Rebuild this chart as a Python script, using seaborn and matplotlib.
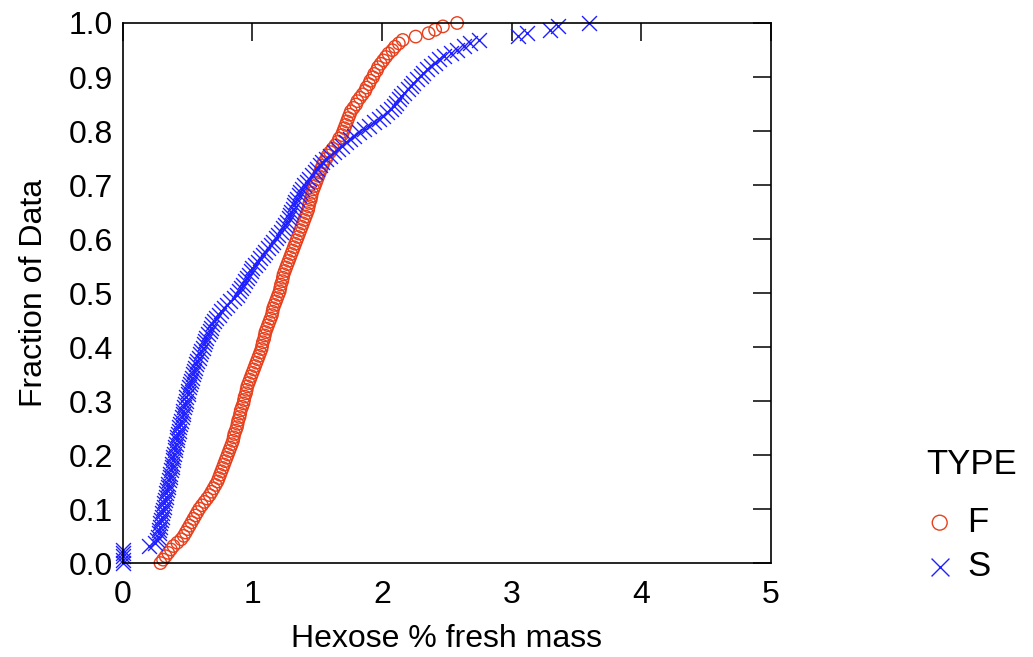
import numpy as np
import pandas as pd
import matplotlib
matplotlib.use("Agg")
import matplotlib.pyplot as plt
import seaborn as sns

# hexose values, sorted, one list per TYPE
hexose_F = [
    0.29, 0.31, 0.33, 0.35, 0.37, 0.39, 0.42, 0.45,
    0.47, 0.485, 0.50, 0.515, 0.53, 0.545, 0.56, 0.575,
    0.59, 0.61, 0.63, 0.65, 0.67, 0.685, 0.70, 0.715,
    0.73, 0.74, 0.75, 0.76, 0.77, 0.78, 0.79, 0.80,
    0.81, 0.82, 0.83, 0.84, 0.85, 0.855, 0.86, 0.87,
    0.88, 0.885, 0.89, 0.90, 0.905, 0.91, 0.92, 0.93,
    0.935, 0.94, 0.95, 0.955, 0.96, 0.97, 0.98, 0.99,
    1.00, 1.01, 1.02, 1.03, 1.04, 1.05, 1.06, 1.07,
    1.075, 1.08, 1.09, 1.095, 1.10, 1.11, 1.12, 1.13,
    1.14, 1.15, 1.155, 1.16, 1.17, 1.18, 1.19, 1.20,
    1.21, 1.215, 1.22, 1.23, 1.235, 1.24, 1.25, 1.26,
    1.27, 1.28, 1.29, 1.30, 1.31, 1.32, 1.33, 1.34,
    1.35, 1.36, 1.37, 1.38, 1.39, 1.40, 1.41, 1.42,
    1.43, 1.435, 1.44, 1.45, 1.455, 1.46, 1.47, 1.48,
    1.49, 1.50, 1.51, 1.52, 1.53, 1.54, 1.55, 1.57,
    1.58, 1.60, 1.62, 1.64, 1.66, 1.67, 1.69, 1.70,
    1.71, 1.72, 1.73, 1.74, 1.75, 1.76, 1.78, 1.80,
    1.81, 1.83, 1.85, 1.87, 1.88, 1.90, 1.91, 1.93,
    1.94, 1.96, 1.97, 1.99, 2.01, 2.03, 2.05, 2.08,
    2.10, 2.13, 2.16,
    2.26, 2.36, 2.41, 2.47, 2.58,
]

hexose_S = [
    0.0, 0.0, 0.0, 0.0, 0.0,
    0.20,
    0.25, 0.26, 0.27,
    0.275, 0.28, 0.285, 0.29, 0.295, 0.30, 0.305, 0.31,
    0.315, 0.32, 0.325, 0.33, 0.335, 0.34, 0.345, 0.35,
    0.355, 0.36, 0.365, 0.37, 0.375, 0.38, 0.385, 0.39,
    0.395, 0.40, 0.405, 0.41, 0.415, 0.42, 0.425, 0.43,
    0.436, 0.442, 0.448, 0.454, 0.46, 0.466, 0.472, 0.478,
    0.485, 0.49, 0.50, 0.505, 0.51, 0.52, 0.525, 0.535,
    0.54, 0.55, 0.56, 0.565, 0.575, 0.585, 0.595, 0.605,
    0.615, 0.625, 0.635, 0.645, 0.655, 0.67, 0.68, 0.69,
    0.70, 0.72, 0.74, 0.76, 0.78, 0.80, 0.83, 0.86,
    0.88, 0.895, 0.91, 0.925, 0.94, 0.955, 0.97, 0.985,
    1.00, 1.02, 1.04, 1.06, 1.08, 1.10, 1.12, 1.14,
    1.16, 1.18, 1.20, 1.22, 1.235, 1.25, 1.265, 1.28,
    1.29, 1.30, 1.31, 1.32, 1.33, 1.345, 1.36, 1.37,
    1.38, 1.40, 1.42, 1.44, 1.46, 1.48, 1.50, 1.52,
    1.54, 1.57, 1.60, 1.63, 1.66, 1.69, 1.72, 1.75,
    1.78, 1.82, 1.86, 1.90, 1.94, 1.98, 2.01, 2.04,
    2.07, 2.09, 2.11, 2.13, 2.15, 2.17, 2.20, 2.22,
    2.24, 2.27, 2.30, 2.32, 2.35, 2.38, 2.41, 2.44,
    2.48, 2.53, 2.58, 2.63, 2.68,
    2.75, 3.05, 3.12, 3.30, 3.36, 3.60,
]

types = ["F", "S"]
colors = {"F": "#E8401C", "S": "#1F1FFF"}
x_ticks = [0, 1, 2, 3, 4, 5]
y_ticks = [0.0, 0.1, 0.2, 0.3, 0.4, 0.5, 0.6, 0.7, 0.8, 0.9, 1.0]

df = pd.concat([
    pd.DataFrame({"hexose": hexose_F, "TYPE": "F"}),
    pd.DataFrame({"hexose": hexose_S, "TYPE": "S"}),
], ignore_index=True)
# fraction of data = rank within group scaled to 0..1
grp = df.groupby("TYPE")["hexose"]
df["frac"] = (grp.rank(method="first") - 1) / (grp.transform("count") - 1)

sns.set_style("white")
plt.rcParams["font.family"] = ["Liberation Sans", "DejaVu Sans"]
plt.rcParams["text.color"] = "black"
plt.rcParams["axes.labelcolor"] = "black"

fig = plt.figure(figsize=(10.33, 6.57), dpi=100)
ax = fig.add_axes([0.119, 0.143, 0.627, 0.822])

sns.scatterplot(data=df[df["TYPE"] == "F"], x="hexose", y="frac", marker="o",
                s=80, facecolor="none", edgecolor=colors["F"], linewidth=1.0,
                label="F", legend=False, clip_on=False, ax=ax)
sns.scatterplot(data=df[df["TYPE"] == "S"], x="hexose", y="frac", marker="x",
                s=115, color=colors["S"], linewidth=1.0,
                label="S", legend=False, clip_on=False, ax=ax)

ax.set_xlim(0, 5)
ax.set_ylim(0, 1.0)
ax.set_xticks(x_ticks)
ax.set_xticklabels([str(t) for t in x_ticks])
ax.set_yticks(y_ticks)
ax.set_yticklabels([f"{t:.1f}" for t in y_ticks])

for sp in ax.spines.values():
    sp.set_visible(True)
    sp.set_color("black")
    sp.set_linewidth(1.2)

ax.tick_params(axis="both", which="major", direction="in", length=13, width=1.1,
               labelsize=23, colors="black", top=True, right=True)
ax.tick_params(axis="x", pad=12)
ax.tick_params(axis="y", pad=7)

ax.set_xlabel("Hexose % fresh mass", fontsize=23, labelpad=10)
ax.set_ylabel("Fraction of Data", fontsize=23, labelpad=14)

handles, labels = ax.get_legend_handles_labels()
leg = fig.legend(handles, labels, title="TYPE", loc="upper left",
                 bbox_to_anchor=(0.866, 0.366), frameon=False, fontsize=25,
                 title_fontsize=25, markerscale=1.2, handlelength=0.8,
                 handletextpad=0.4, labelspacing=0.33)
leg._legend_box.align = "left"
leg._legend_box.sep = 18

fig.savefig("out.png", dpi=100)
